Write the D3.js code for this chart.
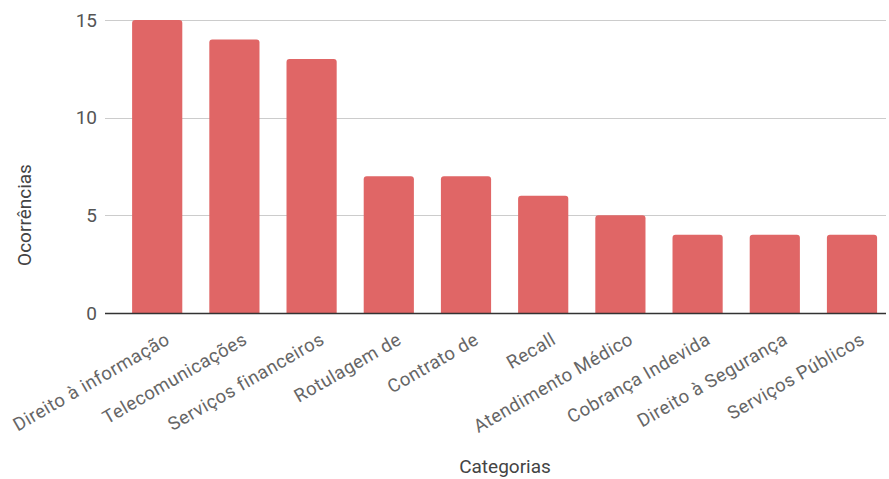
<!DOCTYPE html>
<html>
<head>
<meta charset="utf-8">
<script src="https://cdn.jsdelivr.net/npm/d3@7"></script>
<style>
  html, body { margin: 0; padding: 0; background: #fff; }
  svg { display: block; font-family: Roboto, "Noto Sans", sans-serif; }
</style>
</head>
<body>
<svg id="chart" width="889" height="479"></svg>
<script>
// Occurrences per complaint category
const categories = [
  "Direito à informação",
  "Telecomunicações",
  "Serviços financeiros",
  "Rotulagem de",
  "Contrato de",
  "Recall",
  "Atendimento Médico",
  "Cobrança Indevida",
  "Direito à Segurança",
  "Serviços Públicos"
];
const occurrences = [15, 14, 13, 7, 7, 6, 5, 4, 4, 4];
const yTicks = [0, 5, 10, 15];
const xTitle = "Categorias";
const yTitle = "Ocorrências";

const svg = d3.select("#chart");
const plot = { left: 105, right: 886, top: 20, bottom: 313 };

const x = d3.scaleBand()
  .domain(categories)
  .range([118.6, 890.6])
  .paddingInner(0.35)
  .paddingOuter(0.175);

const y = d3.scaleLinear()
  .domain([0, 15])
  .range([plot.bottom, plot.top]);

// Horizontal gridlines
svg.append("g")
  .selectAll("line")
  .data(yTicks.filter(d => d !== 0))
  .join("line")
  .attr("x1", plot.left)
  .attr("x2", plot.right)
  .attr("y1", d => Math.round(y(d)) + 0.5)
  .attr("y2", d => Math.round(y(d)) + 0.5)
  .attr("stroke", "#cccccc")
  .attr("stroke-width", 1);

// Y axis labels
const yAxis = svg.append("g")
  .attr("transform", `translate(${plot.left - 8},0)`)
  .call(d3.axisLeft(y).tickValues(yTicks).tickSize(0).tickPadding(0));
yAxis.select(".domain").remove();
yAxis.selectAll("text")
  .attr("font-family", "Roboto, sans-serif")
  .attr("font-size", 19)
  .attr("fill", "#555");

// Bars with slightly rounded top corners
const r = 3;
svg.append("g")
  .selectAll("path")
  .data(occurrences)
  .join("path")
  .attr("fill", "#e06666")
  .attr("d", (d, i) => {
    const x0 = x(categories[i]);
    const w = x.bandwidth();
    const y0 = y(d);
    const yb = y(0);
    return `M${x0},${yb} L${x0},${y0 + r} Q${x0},${y0} ${x0 + r},${y0}
            L${x0 + w - r},${y0} Q${x0 + w},${y0} ${x0 + w},${y0 + r}
            L${x0 + w},${yb} Z`;
  });

// Baseline
svg.append("line")
  .attr("x1", plot.left)
  .attr("x2", plot.right)
  .attr("y1", y(0) + 0.5)
  .attr("y2", y(0) + 0.5)
  .attr("stroke", "#333")
  .attr("stroke-width", 1.5);

// Rotated category labels
svg.append("g")
  .selectAll("text")
  .data(categories)
  .join("text")
  .attr("transform", d => `translate(${x(d) + x.bandwidth() / 2 + 14},${plot.bottom + 30}) rotate(-30)`)
  .attr("text-anchor", "end")
  .attr("font-size", 18.5)
  .attr("letter-spacing", 0.5)
  .attr("fill", "#666")
  .text(d => d);

// Axis titles
svg.append("text")
  .attr("x", 505)
  .attr("y", 473)
  .attr("text-anchor", "middle")
  .attr("font-size", 19)
  .attr("fill", "#444")
  .text(xTitle);

svg.append("text")
  .attr("transform", `translate(31,215) rotate(-90)`)
  .attr("text-anchor", "middle")
  .attr("font-size", 19)
  .attr("fill", "#444")
  .text(yTitle);
</script>
</body>
</html>
